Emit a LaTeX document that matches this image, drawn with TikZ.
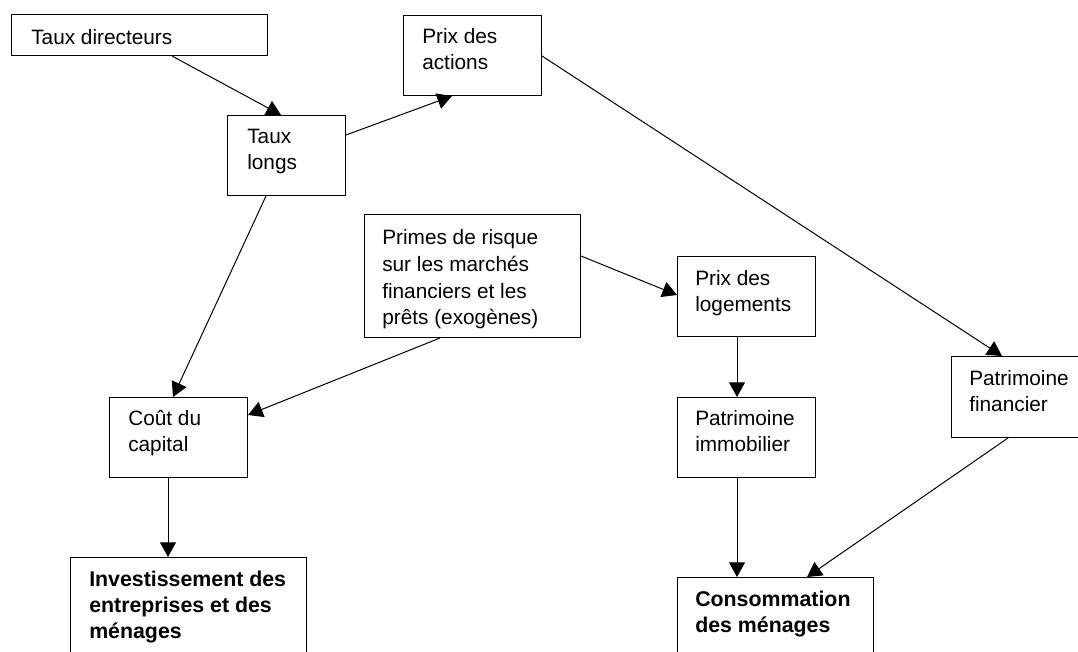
\documentclass[tikz,border=0pt]{standalone}
\usepackage{fontspec}
\setmainfont{Liberation Sans}
\usetikzlibrary{arrows.meta}
\begin{document}
\begin{tikzpicture}[x=0.75pt,y=-0.75pt,
  boxnode/.style={draw,line width=0.75pt,inner sep=0pt,anchor=north west},
  txt/.style={inner sep=0pt,anchor=north west,align=left,font=\fontsize{15.6}{20}\selectfont},
  btxt/.style={inner sep=0pt,anchor=north west,align=left,font=\fontsize{16}{19.5}\selectfont\bfseries},
  conn/.style={line width=0.75pt,-{Triangle[length=11pt,width=12pt]}}]
\useasboundingbox (0,0) rectangle (1078,652);
\clip (0,0) rectangle (1078,652);
\fill[white] (0,0) rectangle (1078,652);
% boxes
\node[boxnode,minimum width=192pt,minimum height=30.75pt] (td) at (11,14) {};
\node[boxnode,minimum width=103.5pt,minimum height=60pt] (pa) at (403,15) {};
\node[boxnode,minimum width=88.5pt,minimum height=60pt] (tl) at (227,115) {};
\node[boxnode,minimum width=162pt,minimum height=92.25pt] (pr) at (364,214) {};
\node[boxnode,minimum width=103.5pt,minimum height=60pt] (pl) at (677,256) {};
\node[boxnode,minimum width=103.5pt,minimum height=60pt] (pi) at (677,397) {};
\node[boxnode,minimum width=111.75pt,minimum height=60.75pt] (pf) at (951,356) {};
\node[boxnode,minimum width=103.5pt,minimum height=60pt] (cc) at (109,397) {};
\node[boxnode,minimum width=177pt,minimum height=107.25pt] (inv) at (70,557) {};
\node[boxnode,minimum width=147pt,minimum height=92.25pt] (co) at (677,577) {};
% texts
\node[txt] (tdT) at ([shift={(20,0)}]td.north west) {\rule{0pt}{23pt}Taux directeurs};
\node[txt] (paT) at ([shift={(19,0)}]pa.north west) {\rule{0pt}{21pt}Prix des\\actions};
\node[txt] (tlT) at ([shift={(20,0)}]tl.north west) {\rule{0pt}{21pt}Taux\\longs};
\node[txt] (prT) at ([shift={(18,0)}]pr.north west) {\rule{0pt}{23pt}Primes de risque\\sur les marchés\\financiers et les\\prêts (exogènes)};
\node[txt] (plT) at ([shift={(18,0)}]pl.north west) {\rule{0pt}{21.75pt}Prix des\\logements};
\node[txt] (piT) at ([shift={(18,0)}]pi.north west) {\rule{0pt}{21pt}Patrimoine\\immobilier};
\node[txt] (pfT) at ([shift={(18,0)}]pf.north west) {\rule{0pt}{21.75pt}Patrimoine\\financier};
\node[txt] (ccT) at ([shift={(19,0)}]cc.north west) {\rule{0pt}{21pt}Coût du\\capital};
\node[btxt] (invT) at ([shift={(19,0)}]inv.north west) {\rule{0pt}{21.75pt}Investissement des\\entreprises et des\\ménages};
\node[btxt] (coT) at ([shift={(18,0)}]co.north west) {\rule{0pt}{21.75pt}Consommation\\des ménages};
% connectors
\draw[conn] ([shift={(161,0)}]td.south west) -- ([shift={(54,0)}]tl.north west);
\draw[conn] ([shift={(0,20)}]tl.north east) -- ([shift={(49,0)}]pa.south west);
\draw[conn] ([shift={(0,41)}]pa.north east) -- ([shift={(51,0)}]pf.north west);
\draw[conn] ([shift={(39,0)}]tl.south west) -- ([shift={(64,0)}]cc.north west);
\draw[conn] ([shift={(0,42)}]pr.north east) -- ([shift={(0,39)}]pl.north west);
\draw[conn] ([shift={(76,0)}]pr.south west) -- ([shift={(0,18)}]cc.north east);
\draw[conn] ([shift={(60,0)}]pl.south west) -- ([shift={(60,0)}]pi.north west);
\draw[conn] ([shift={(60,0)}]pi.south west) -- ([shift={(60,0)}]co.north west);
\draw[conn] ([shift={(57,0)}]pf.south west) -- ([shift={(130,0)}]co.north west);
\draw[conn] ([shift={(59,0)}]cc.south west) -- ([shift={(98,0)}]inv.north west);
\end{tikzpicture}
\end{document}
